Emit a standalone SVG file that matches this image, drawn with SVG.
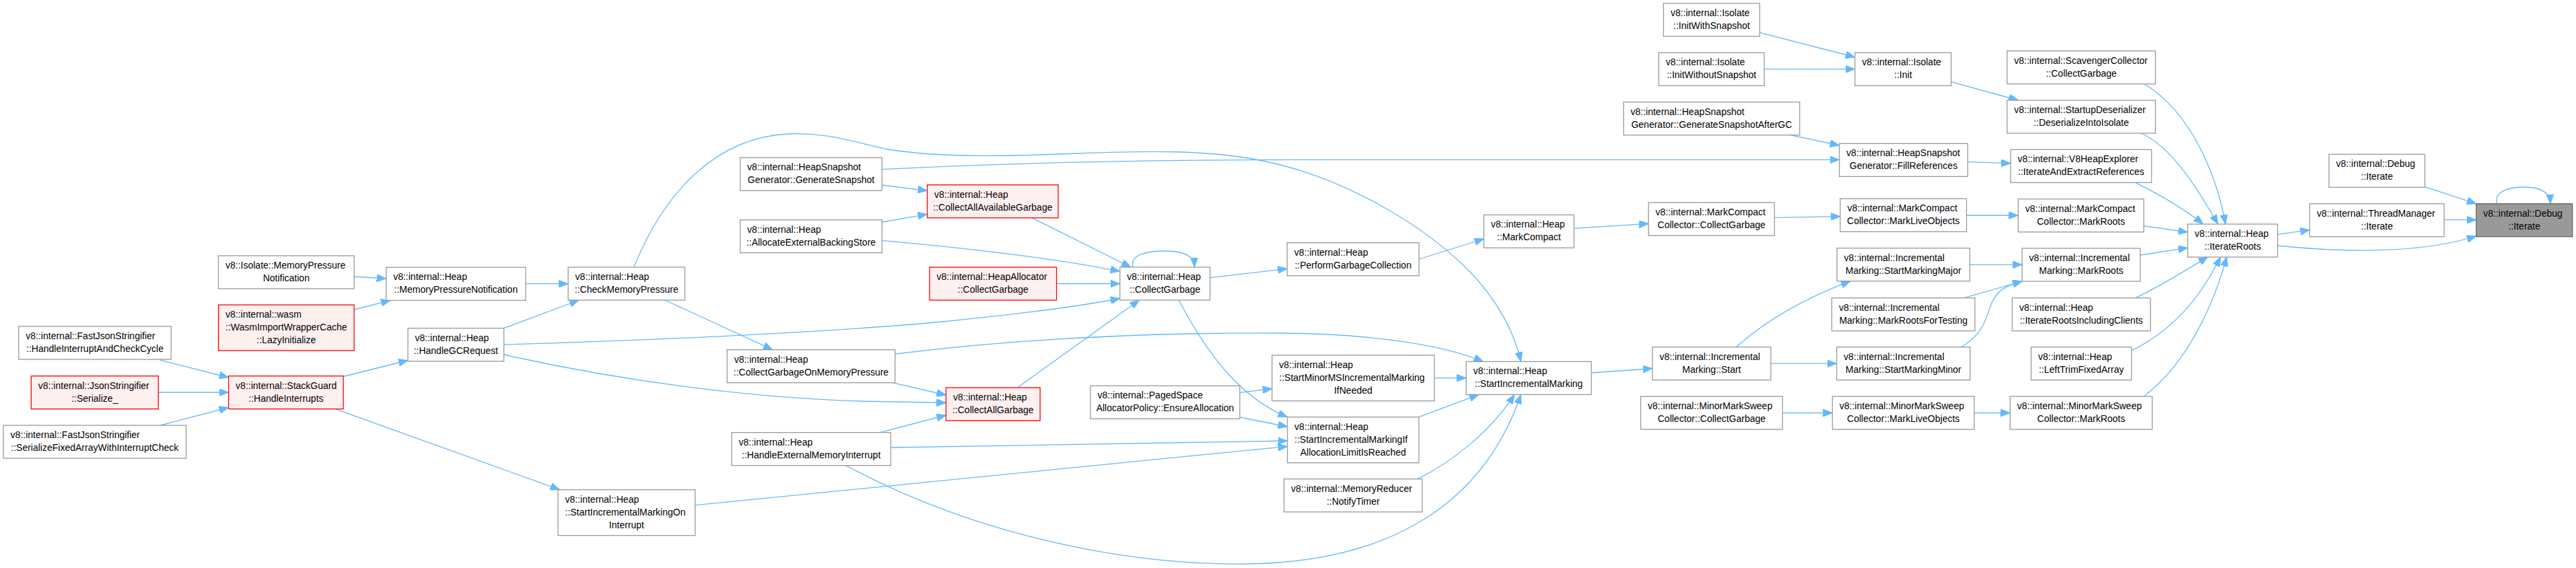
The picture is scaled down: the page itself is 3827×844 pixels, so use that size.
<svg xmlns="http://www.w3.org/2000/svg" width="3827" height="844" viewBox="0 0 3827 844">
<style>
.nd{fill:#ffffff;stroke:#999999;stroke-width:1.3}
.rd{fill:#fff0f0;stroke:#ff0000;stroke-width:1.3}
.gr{fill:#999999;stroke:#666666;stroke-width:1.3}
text{font-family:"Liberation Sans",Arial,Helvetica,sans-serif;font-size:14px;fill:#000000}
.c{text-anchor:middle}
.e path{fill:none;stroke:#63b8ff;stroke-width:1.3;marker-end:url(#ah)}
</style>
<defs>
<marker id="ah" markerUnits="userSpaceOnUse" markerWidth="15" markerHeight="11" refX="14" refY="5.5" orient="auto"><path d="M0,0 L14,5.5 L0,11 z" fill="#63b8ff" stroke="#63b8ff" stroke-width="1"/></marker>
</defs>
<rect x="0" y="0" width="3827" height="844" fill="#ffffff"/>
<g id="edges" class="e">
<path d="M238,535 L339.6,561"/>
<path d="M235.3,583 L339.6,583"/>
<path d="M238,632 L339.6,605.5"/>
<path d="M510,559.5 L606,535.5"/>
<path d="M497,607.3 L831.5,727.7"/>
<path d="M526.1,411 L573.7,414"/>
<path d="M526.1,460 L580,446.3"/>
<path d="M781,421.7 L844.1,421.7"/>
<path d="M748.6,487.7 L860,446"/>
<path d="M748.6,512 C1000,505 1250,492 1400,478 C1520,466 1600,456 1663.8,443.5"/>
<path d="M748.6,527 C950,572 1150,594 1300,596.5 L1405.4,598.5"/>
<path d="M1329.7,526 C1500,505 1700,494 1900,495 C2050,496 2150,515 2203.5,537.3"/>
<path d="M988,446 L1148,519.7"/>
<path d="M941.8,396.7 C985,290 1060,205 1170,199 C1230,196 1270,212 1320,222 C1400,235 1500,232 1600,228 C1700,224 1800,222 1880,240 C1990,262 2110,330 2180,400 C2225,445 2250,495 2259.5,537.3"/>
<path d="M1326,568.7 L1405.4,587"/>
<path d="M1307.4,642.7 L1405.4,617"/>
<path d="M1323.4,665 L1912.6,655"/>
<path d="M1032.7,750.7 L1912.6,663.3"/>
<path d="M1256.6,691.7 C1420,780 1640,840 1850,838 C2050,836 2200,760 2259.5,586.3"/>
<path d="M1751.4,446 C1790,520 1840,590 1912.6,619.7"/>
<path d="M1841.9,583.3 L1889.8,577.5"/>
<path d="M1841.9,620 L1912.6,634"/>
<path d="M2107.9,619.7 L2197,586.3"/>
<path d="M2131,561.7 L2178.2,561.7"/>
<path d="M2106,711.7 C2160,685 2215,640 2250,586.3"/>
<path d="M2364.2,554 L2454.9,547.5"/>
<path d="M2579.5,515.7 C2630,470 2690,440 2749,417.7"/>
<path d="M2630.8,540.2 L2728.6,540.2"/>
<path d="M2648.2,613.5 L2722.3,613.5"/>
<path d="M2933.1,613.5 L2986.3,613.5"/>
<path d="M2913.5,515.7 C2945,498 2950,475 2957,455 C2965,432 2980,424 3004.1,418"/>
<path d="M2918,442.7 L3004.1,418"/>
<path d="M2926.4,393.3 L3004.1,393.3"/>
<path d="M2921.5,320 L2998.3,320"/>
<path d="M2636.2,323.3 L2733.9,321.7"/>
<path d="M2338.4,339.3 L2449.1,332.3"/>
<path d="M2108.2,385 L2204.5,355"/>
<path d="M2659.8,200.7 L2732.6,216"/>
<path d="M1310.3,251.7 C1500,242 1700,237.3 1940,237.3 L2732.6,237.3"/>
<path d="M1310.3,275 L1377.6,283.3"/>
<path d="M1310.3,330 L1377.6,318.3"/>
<path d="M1310.3,357.3 C1450,370 1580,386 1663.8,403.3"/>
<path d="M1532.5,323.3 L1680,397"/>
<path d="M1569.6,421.5 L1663.8,421.5"/>
<path d="M1511.5,576 L1692.5,446"/>
<path d="M1797.7,412.7 L1912.2,399.3"/>
<path d="M1683,397 C1678,378 1705,373 1730,373 C1755,373 1774,378 1774.5,397"/>
<path d="M2614.3,48.3 L2755.8,85"/>
<path d="M2621,102.7 L2755.8,102.7"/>
<path d="M2898.7,121.7 L2998.3,149"/>
<path d="M2923.3,240.7 L2987.1,242.7"/>
<path d="M3185.8,124.7 C3260,170 3295,270 3306.3,333"/>
<path d="M3181.3,198 C3230,220 3270,290 3295.2,333"/>
<path d="M3172.4,271.3 C3210,290 3245,310 3273,333"/>
<path d="M3184.9,335.7 L3250.1,345"/>
<path d="M3179.6,379 L3250.1,368.3"/>
<path d="M3172.4,442.7 C3210,425 3250,400 3280,381.7"/>
<path d="M3166.6,521 C3230,490 3270,440 3299,381.7"/>
<path d="M3184.9,589 C3250,540 3290,450 3308,381.7"/>
<path d="M3383.6,348.3 L3431.4,341.7"/>
<path d="M3383.6,365 C3500,377 3600,375 3678.8,351"/>
<path d="M3602.5,277.7 L3678.8,302.7"/>
<path d="M3631.1,326.7 L3678.8,326.7"/>
<path d="M3709.4,302.7 C3705,283 3730,278 3750,278 C3770,278 3788,283 3789,302.7"/>
</g>
<g id="n1"><rect class="nd" x="324.5" y="380" width="201.6" height="49"/><text x="335" y="399">v8::Isolate::MemoryPressure</text><text class="c" x="425.3" y="418">Notification</text></g>
<g id="n2"><rect class="rd" x="324.5" y="453" width="201.6" height="68"/><text x="335" y="472">v8::internal::wasm</text><text x="335" y="491">::WasmImportWrapperCache</text><text class="c" x="425.3" y="510">::LazyInitialize</text></g>
<g id="n3"><rect class="nd" x="27.8" y="485" width="226.4" height="49"/><text x="38.3" y="504">v8::internal::FastJsonStringifier</text><text class="c" x="141" y="523">::HandleInterruptAndCheckCycle</text></g>
<g id="n4"><rect class="rd" x="46.3" y="558.7" width="189" height="49"/><text x="56.8" y="577.7">v8::internal::JsonStringifier</text><text class="c" x="140.8" y="596.7">::Serialize_</text></g>
<g id="n5"><rect class="nd" x="5.1" y="632" width="271.4" height="49"/><text x="15.6" y="651">v8::internal::FastJsonStringifier</text><text class="c" x="140.8" y="670">::SerializeFixedArrayWithInterruptCheck</text></g>
<g id="n6"><rect class="rd" x="339.6" y="558.7" width="170.5" height="49"/><text x="350.1" y="577.7">v8::internal::StackGuard</text><text class="c" x="424.9" y="596.7">::HandleInterrupts</text></g>
<g id="n7"><rect class="nd" x="573.7" y="397.3" width="207.3" height="49"/><text x="584.2" y="416.3">v8::internal::Heap</text><text class="c" x="677.4" y="435.3">::MemoryPressureNotification</text></g>
<g id="n8"><rect class="nd" x="606" y="487.7" width="142.6" height="49"/><text x="616.5" y="506.7">v8::internal::Heap</text><text class="c" x="677.3" y="525.7">::HandleGCRequest</text></g>
<g id="n9"><rect class="nd" x="844.1" y="397" width="173.4" height="49"/><text x="854.6" y="416">v8::internal::Heap</text><text class="c" x="930.8" y="435">::CheckMemoryPressure</text></g>
<g id="n10"><rect class="nd" x="1080.2" y="519.7" width="249.5" height="49"/><text x="1090.7" y="538.7">v8::internal::Heap</text><text class="c" x="1205" y="557.7">::CollectGarbageOnMemoryPressure</text></g>
<g id="n11"><rect class="nd" x="1087" y="642.7" width="236.4" height="49"/><text x="1097.5" y="661.7">v8::internal::Heap</text><text class="c" x="1205.2" y="680.7">::HandleExternalMemoryInterrupt</text></g>
<g id="n12"><rect class="nd" x="829" y="727.7" width="203.7" height="68"/><text x="839.5" y="746.7">v8::internal::Heap</text><text x="839.5" y="765.7">::StartIncrementalMarkingOn</text><text class="c" x="930.9" y="784.7">Interrupt</text></g>
<g id="n13"><rect class="nd" x="1099.6" y="234.3" width="210.7" height="49"/><text x="1110.1" y="253.3">v8::internal::HeapSnapshot</text><text class="c" x="1205" y="272.3">Generator::GenerateSnapshot</text></g>
<g id="n14"><rect class="nd" x="1099.6" y="326.7" width="210.7" height="49"/><text x="1110.1" y="345.7">v8::internal::Heap</text><text class="c" x="1205" y="364.7">::AllocateExternalBackingStore</text></g>
<g id="n15"><rect class="rd" x="1377.6" y="274.7" width="194.5" height="49"/><text x="1388.1" y="293.7">v8::internal::Heap</text><text class="c" x="1474.9" y="312.7">::CollectAllAvailableGarbage</text></g>
<g id="n16"><rect class="rd" x="1381" y="397" width="188.6" height="49"/><text x="1391.5" y="416">v8::internal::HeapAllocator</text><text class="c" x="1475.3" y="435">::CollectGarbage</text></g>
<g id="n17"><rect class="nd" x="1663.8" y="397" width="133.9" height="49"/><text x="1674.3" y="416">v8::internal::Heap</text><text class="c" x="1730.8" y="435">::CollectGarbage</text></g>
<g id="n18"><rect class="nd" x="1912.2" y="360.7" width="196" height="49"/><text x="1922.7" y="379.7">v8::internal::Heap</text><text class="c" x="2010.2" y="398.7">::PerformGarbageCollection</text></g>
<g id="n19"><rect class="rd" x="1405.4" y="576" width="139.8" height="49"/><text x="1415.9" y="595">v8::internal::Heap</text><text class="c" x="1475.3" y="614">::CollectAllGarbage</text></g>
<g id="n20"><rect class="nd" x="1620" y="573.3" width="221.9" height="49"/><text x="1630.5" y="592.3">v8::internal::PagedSpace</text><text class="c" x="1731" y="611.3">AllocatorPolicy::EnsureAllocation</text></g>
<g id="n21"><rect class="nd" x="1889.8" y="527.7" width="241.2" height="68"/><text x="1900.3" y="546.7">v8::internal::Heap</text><text x="1900.3" y="565.7">::StartMinorMSIncrementalMarking</text><text class="c" x="2010.4" y="584.7">IfNeeded</text></g>
<g id="n22"><rect class="nd" x="1912.6" y="619.7" width="195.3" height="68"/><text x="1923.1" y="638.7">v8::internal::Heap</text><text x="1923.1" y="657.7">::StartIncrementalMarkingIf</text><text class="c" x="2010.3" y="676.7">AllocationLimitIsReached</text></g>
<g id="n23"><rect class="nd" x="1907.6" y="711.7" width="205.4" height="49"/><text x="1918.1" y="730.7">v8::internal::MemoryReducer</text><text class="c" x="2010.3" y="749.7">::NotifyTimer</text></g>
<g id="n24"><rect class="nd" x="2178.2" y="537.3" width="186" height="49"/><text x="2188.7" y="556.3">v8::internal::Heap</text><text class="c" x="2271.2" y="575.3">::StartIncrementalMarking</text></g>
<g id="n25"><rect class="nd" x="2471.4" y="5" width="142.9" height="49"/><text x="2481.9" y="24">v8::internal::Isolate</text><text class="c" x="2542.9" y="43">::InitWithSnapshot</text></g>
<g id="n26"><rect class="nd" x="2464.3" y="78.3" width="156.7" height="49"/><text x="2474.8" y="97.3">v8::internal::Isolate</text><text class="c" x="2542.7" y="116.3">::InitWithoutSnapshot</text></g>
<g id="n27"><rect class="nd" x="2755.8" y="78.3" width="142.9" height="49"/><text x="2766.3" y="97.3">v8::internal::Isolate</text><text class="c" x="2827.3" y="116.3">::Init</text></g>
<g id="n28"><rect class="nd" x="2412" y="151.7" width="261.7" height="49"/><text x="2422.5" y="170.7">v8::internal::HeapSnapshot</text><text class="c" x="2542.9" y="189.7">Generator::GenerateSnapshotAfterGC</text></g>
<g id="n29"><rect class="nd" x="2732.6" y="213.3" width="190.7" height="49"/><text x="2743.1" y="232.3">v8::internal::HeapSnapshot</text><text class="c" x="2828" y="251.3">Generator::FillReferences</text></g>
<g id="n30"><rect class="nd" x="2204.5" y="319.3" width="133.9" height="49"/><text x="2215" y="338.3">v8::internal::Heap</text><text class="c" x="2271.5" y="357.3">::MarkCompact</text></g>
<g id="n31"><rect class="nd" x="2449.1" y="301" width="187.1" height="49"/><text x="2459.6" y="320">v8::internal::MarkCompact</text><text class="c" x="2542.7" y="339">Collector::CollectGarbage</text></g>
<g id="n32"><rect class="nd" x="2733.9" y="295.3" width="187.6" height="49"/><text x="2744.4" y="314.3">v8::internal::MarkCompact</text><text class="c" x="2827.7" y="333.3">Collector::MarkLiveObjects</text></g>
<g id="n33"><rect class="nd" x="2729" y="368.7" width="197.4" height="49"/><text x="2739.5" y="387.7">v8::internal::Incremental</text><text class="c" x="2827.7" y="406.7">Marking::StartMarkingMajor</text></g>
<g id="n34"><rect class="nd" x="2721.4" y="442.7" width="212.6" height="49"/><text x="2731.9" y="461.7">v8::internal::Incremental</text><text class="c" x="2827.7" y="480.7">Marking::MarkRootsForTesting</text></g>
<g id="n35"><rect class="nd" x="2454.9" y="515.7" width="175.9" height="49"/><text x="2465.4" y="534.7">v8::internal::Incremental</text><text class="c" x="2542.9" y="553.7">Marking::Start</text></g>
<g id="n36"><rect class="nd" x="2728.6" y="515.7" width="198.3" height="49"/><text x="2739.1" y="534.7">v8::internal::Incremental</text><text class="c" x="2827.8" y="553.7">Marking::StartMarkingMinor</text></g>
<g id="n37"><rect class="nd" x="2437.5" y="589" width="210.7" height="49"/><text x="2448" y="608">v8::internal::MinorMarkSweep</text><text class="c" x="2542.9" y="627">Collector::CollectGarbage</text></g>
<g id="n38"><rect class="nd" x="2722.3" y="589" width="210.8" height="49"/><text x="2732.8" y="608">v8::internal::MinorMarkSweep</text><text class="c" x="2827.7" y="627">Collector::MarkLiveObjects</text></g>
<g id="n39"><rect class="nd" x="2981.8" y="75.7" width="220.5" height="49"/><text x="2992.3" y="94.7">v8::internal::ScavengerCollector</text><text class="c" x="3092" y="113.7">::CollectGarbage</text></g>
<g id="n40"><rect class="nd" x="2981.8" y="149" width="220.5" height="49"/><text x="2992.3" y="168">v8::internal::StartupDeserializer</text><text class="c" x="3092" y="187">::DeserializeIntoIsolate</text></g>
<g id="n41"><rect class="nd" x="2987.1" y="222.3" width="209.4" height="49"/><text x="2997.6" y="241.3">v8::internal::V8HeapExplorer</text><text class="c" x="3091.8" y="260.3">::IterateAndExtractReferences</text></g>
<g id="n42"><rect class="nd" x="2998.3" y="295.7" width="186.6" height="49"/><text x="3008.8" y="314.7">v8::internal::MarkCompact</text><text class="c" x="3091.6" y="333.7">Collector::MarkRoots</text></g>
<g id="n43"><rect class="nd" x="3004.1" y="369" width="175.5" height="49"/><text x="3014.6" y="388">v8::internal::Incremental</text><text class="c" x="3091.9" y="407">Marking::MarkRoots</text></g>
<g id="n44"><rect class="nd" x="3250.1" y="333" width="133.5" height="49"/><text x="3260.6" y="352">v8::internal::Heap</text><text class="c" x="3316.9" y="371">::IterateRoots</text></g>
<g id="n45"><rect class="nd" x="3460" y="229.3" width="142.5" height="49"/><text x="3470.5" y="248.3">v8::internal::Debug</text><text class="c" x="3531.3" y="267.3">::Iterate</text></g>
<g id="n46"><rect class="nd" x="3431.4" y="302.7" width="199.7" height="49"/><text x="3441.9" y="321.7">v8::internal::ThreadManager</text><text class="c" x="3531.3" y="340.7">::Iterate</text></g>
<g id="n47"><rect class="gr" x="3678.8" y="302.7" width="142.9" height="49"/><text x="3689.3" y="321.7">v8::internal::Debug</text><text class="c" x="3750.3" y="340.7">::Iterate</text></g>
<g id="n48"><rect class="nd" x="2989.4" y="442.7" width="205.3" height="49"/><text x="2999.9" y="461.7">v8::internal::Heap</text><text class="c" x="3092.1" y="480.7">::IterateRootsIncludingClients</text></g>
<g id="n49"><rect class="nd" x="3017.5" y="515.7" width="149.1" height="49"/><text x="3028" y="534.7">v8::internal::Heap</text><text class="c" x="3092.1" y="553.7">::LeftTrimFixedArray</text></g>
<g id="n50"><rect class="nd" x="2986.3" y="589" width="211.1" height="49"/><text x="2996.8" y="608">v8::internal::MinorMarkSweep</text><text class="c" x="3091.9" y="627">Collector::MarkRoots</text></g>
</svg>
